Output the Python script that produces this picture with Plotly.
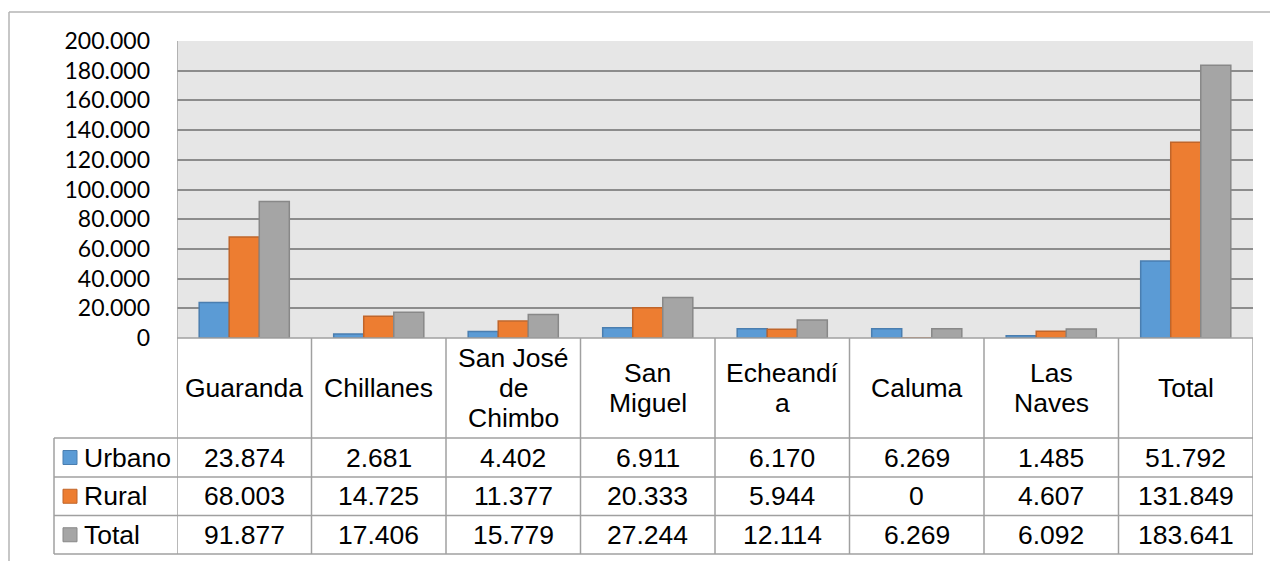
import plotly.graph_objects as go

# ---------------- data ----------------
categories = ["Guaranda", "Chillanes", "San José de Chimbo", "San Miguel",
              "Echeandía", "Caluma", "Las Naves", "Total"]
header_lines = [["Guaranda"], ["Chillanes"], ["San José", "de", "Chimbo"],
                ["San", "Miguel"], ["Echeandí", "a"], ["Caluma"],
                ["Las", "Naves"], ["Total"]]
series_names = ["Urbano", "Rural", "Total"]
urbano = [23874, 2681, 4402, 6911, 6170, 6269, 1485, 51792]
rural = [68003, 14725, 11377, 20333, 5944, 0, 4607, 131849]
total = [91877, 17406, 15779, 27244, 12114, 6269, 6092, 183641]
y_ticks = list(range(0, 200001, 20000))

# ---------------- styling ----------------
fills = ["#5B9BD5", "#ED7D31", "#A5A5A5"]
edges = ["#4A7EB0", "#C0652A", "#888888"]
W, H = 1270, 561
PLOT_L, PLOT_R, PLOT_T, PLOT_B = 177, 1253, 41, 338
ROWS = [338, 438, 477, 515.5, 554]
LEG_L = 54
TABLE_LINE = "#A0A0A0"
TXT_FONT = dict(family="Liberation Sans, Arial, sans-serif", size=26.5, color="#000000")


def px(x):
    return x / W


def py(y):
    return 1 - y / H


def fmt(v):
    return f"{v:,}".replace(",", ".")


fig = go.Figure()
for name, vals, fc, ec in zip(series_names, [urbano, rural, total], fills, edges):
    fig.add_trace(go.Bar(x=categories, y=vals, name=name,
                         marker=dict(color=fc, line=dict(color=ec, width=1.5))))

shapes = []
annotations = []

# outer chart border (top and left visible)
shapes.append(dict(type="line", xref="paper", yref="paper", x0=px(9), x1=1.0,
                   y0=py(12), y1=py(12), line=dict(color="#B4B4B4", width=1.5)))
shapes.append(dict(type="line", xref="paper", yref="paper", x0=px(9), x1=px(9),
                   y0=py(12), y1=0, line=dict(color="#B4B4B4", width=1.5)))

ncat = len(categories)
# vertical table lines on category boundaries
for k in range(ncat + 1):
    y_top = PLOT_T if k == 0 else PLOT_B
    shapes.append(dict(type="line", xref="x", yref="paper", x0=k - 0.5, x1=k - 0.5,
                       y0=py(y_top), y1=py(ROWS[-1]),
                       line=dict(color=TABLE_LINE, width=1.5), layer="above"))
# legend-column left line
shapes.append(dict(type="line", xref="paper", yref="paper", x0=px(LEG_L), x1=px(LEG_L),
                   y0=py(ROWS[1]), y1=py(ROWS[-1]), line=dict(color=TABLE_LINE, width=1.5)))
# horizontal table lines
shapes.append(dict(type="line", xref="paper", yref="paper", x0=px(PLOT_L), x1=px(PLOT_R),
                   y0=py(ROWS[0]), y1=py(ROWS[0]), line=dict(color=TABLE_LINE, width=1.5),
                   layer="above"))
for r in ROWS[1:]:
    shapes.append(dict(type="line", xref="paper", yref="paper", x0=px(LEG_L), x1=px(PLOT_R),
                       y0=py(r), y1=py(r), line=dict(color=TABLE_LINE, width=1.5)))

# header row text
hc = (ROWS[0] + ROWS[1]) / 2
for i, lines in enumerate(header_lines):
    n = len(lines)
    for k, t in enumerate(lines):
        yc = hc + (k - (n - 1) / 2) * 30
        annotations.append(dict(x=i, y=py(yc), xref="x", yref="paper", text=t,
                                showarrow=False, xanchor="center", yanchor="middle",
                                font=TXT_FONT))

# data rows
for r, (name, vals, fc, ec) in enumerate(zip(series_names, [urbano, rural, total], fills, edges)):
    yc = (ROWS[r + 1] + ROWS[r + 2]) / 2
    shapes.append(dict(type="rect", xref="paper", yref="paper", x0=px(63), x1=px(77),
                       y0=py(yc + 7), y1=py(yc - 7), fillcolor=fc,
                       line=dict(color=ec, width=1)))
    annotations.append(dict(x=px(82), y=py(yc), xref="paper", yref="paper", text=name,
                            showarrow=False, xanchor="left", yanchor="middle", font=TXT_FONT))
    for i, v in enumerate(vals):
        annotations.append(dict(x=i, y=py(yc), xref="x", yref="paper", text=fmt(v),
                                showarrow=False, xanchor="center", yanchor="middle",
                                font=TXT_FONT))

fig.update_layout(
    width=W, height=H,
    margin=dict(l=0, r=0, t=0, b=0, pad=0, autoexpand=False),
    paper_bgcolor="white",
    plot_bgcolor="#E6E6E6",
    showlegend=False,
    barmode="group",
    bargap=0.33,
    bargroupgap=0,
    separators=",.",
    shapes=shapes,
    annotations=annotations,
    xaxis=dict(domain=[px(PLOT_L), px(PLOT_R)], showticklabels=False, showgrid=False,
               zeroline=False, showline=False, ticks="", range=[-0.5, ncat - 0.5],
               automargin=False),
    yaxis=dict(domain=[py(PLOT_B), py(PLOT_T)], range=[0, 200000], tickvals=y_ticks,
               tickformat=",d", showgrid=True, gridcolor="#8C8C8C", gridwidth=1.5,
               zeroline=False, showline=False, ticks="", ticklabelstandoff=26,
               automargin=False,
               tickfont=dict(family="Lato, Carlito, sans-serif", size=23, color="#000000")),
)

post = ("document.documentElement.style.margin='0';"
        "document.body.style.margin='0';")

fig.write_html("out.html", post_script=post, config={"displayModeBar": False})
